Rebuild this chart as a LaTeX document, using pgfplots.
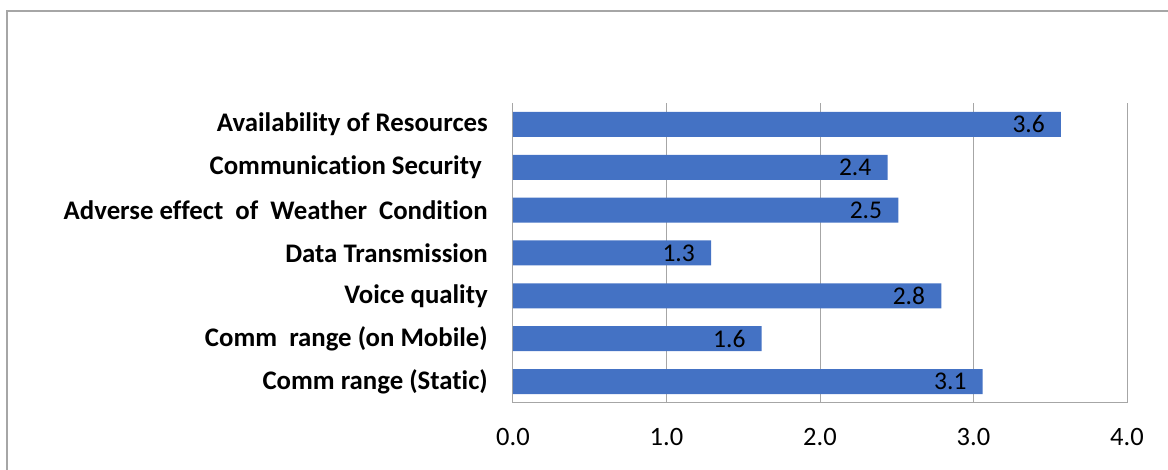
\documentclass[border=0pt]{standalone}
\usepackage{fontspec}
\setmainfont{Carlito}[Ligatures=NoCommon]
\usepackage{pgfplots}
\pgfplotsset{compat=1.18}
\definecolor{barblue}{HTML}{4472C4}
\definecolor{gridgray}{HTML}{A6A6A6}
\begin{document}
\begin{tikzpicture}
\useasboundingbox (0pt,0pt) rectangle (1168pt,470pt);
\draw[gridgray, line width=1.3pt] (7pt,0pt) -- (7pt,459pt) -- (1168pt,459pt);
\begin{axis}[
  at={(513pt,67pt)}, anchor=south west,
  scale only axis, width=614pt, height=300pt,
  xmin=0, xmax=4, ymin=-0.5, ymax=6.5,
  xbar, bar width=25pt,
  /pgf/number format/assume math mode=true,
  xtick={0,1,2,3,4},
  xticklabel={\pgfmathprintnumber[fixed,fixed zerofill,precision=1]{\tick}},
  ytick={0,1,2,3,4,5,6},
  yticklabels={Comm range (Static),Comm\ \ range (on Mobile),Voice quality,Data Transmission,Adverse effect\ \ of\ \ Weather\ \ Condition,Communication Security\hspace*{6pt},Availability of Resources},
  yticklabel style={font=\fontsize{26.8}{30}\selectfont\bfseries, text=black, anchor=east, inner sep=0pt, xshift=-25pt},
  xticklabel style={font=\fontsize{26.5}{30}\selectfont, text=black, anchor=north, inner sep=0pt, yshift=-25pt},
  major tick length=0pt,
  axis x line*=bottom, axis y line*=left,
  axis line style={-, gridgray, line width=1pt},
  xmajorgrids, grid style={gridgray, line width=1pt},
  nodes near coords={\pgfmathprintnumber[fixed,fixed zerofill,precision=1,assume math mode=true]{\pgfplotspointmeta}},
  point meta=x,
  nodes near coords style={anchor=east, inner sep=0pt, xshift=-16pt, font=\fontsize{25.5}{30}\selectfont, text=black},
]
\addplot[fill=barblue, draw=none] coordinates {
  (3.06,0) (1.62,1) (2.79,2) (1.29,3) (2.51,4) (2.44,5) (3.57,6)
};
\end{axis}
\end{tikzpicture}
\end{document}
